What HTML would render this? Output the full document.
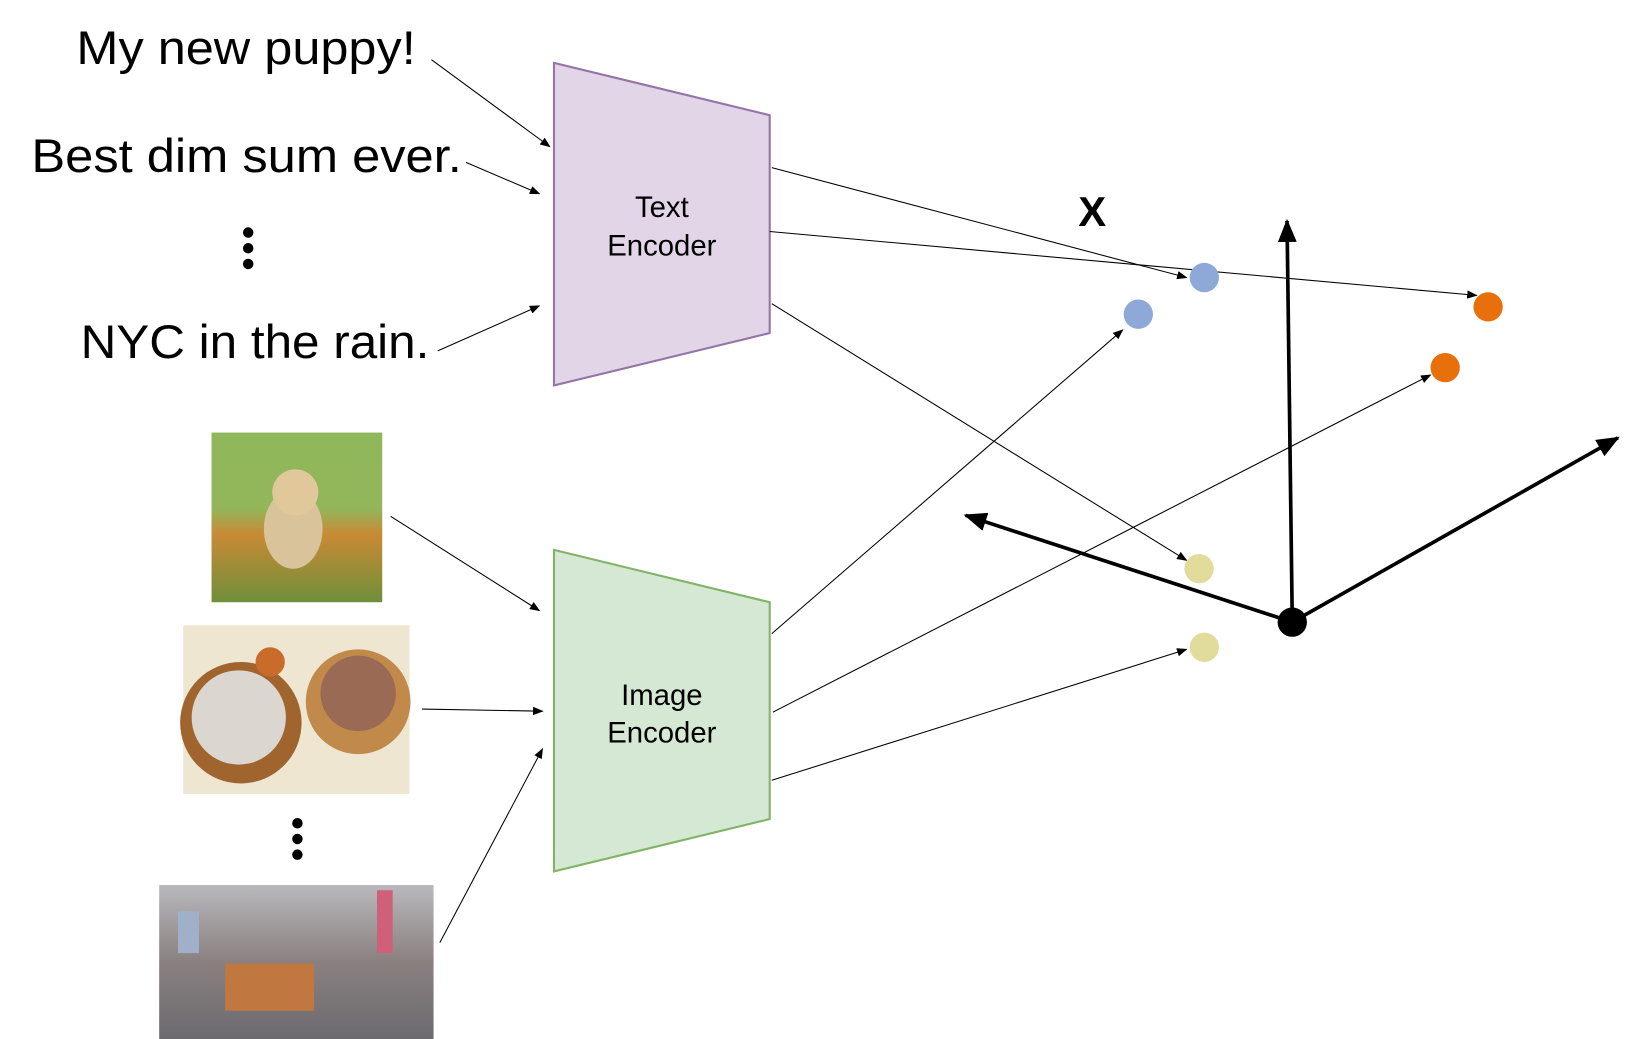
<!DOCTYPE html>
<html><head><meta charset="utf-8"><style>html,body{margin:0;padding:0;background:#fff}svg{display:block}</style></head>
<body>
<svg width="1641" height="1039" viewBox="0 0 1567 992" preserveAspectRatio="none" xmlns="http://www.w3.org/2000/svg">
<defs>
<marker id="a" markerWidth="10" markerHeight="8" refX="9" refY="4" orient="auto" markerUnits="userSpaceOnUse"><path d="M0,0 L10,4 L0,8 Z" fill="#000"/></marker>
<marker id="b" markerWidth="22" markerHeight="18" refX="20" refY="9" orient="auto" markerUnits="userSpaceOnUse"><path d="M0,0 L22,9 L0,18 Z" fill="#000"/></marker>
<linearGradient id="pup" x1="0" y1="0" x2="0" y2="1"><stop offset="0" stop-color="#8fb85a"/><stop offset="0.45" stop-color="#93b65a"/><stop offset="0.6" stop-color="#c98a35"/><stop offset="1" stop-color="#6f8f3a"/></linearGradient>
<linearGradient id="nyc" x1="0" y1="0" x2="0" y2="1"><stop offset="0" stop-color="#b8b8bc"/><stop offset="0.5" stop-color="#8a8080"/><stop offset="1" stop-color="#6c6a70"/></linearGradient>
</defs>
<g font-family="'Liberation Sans', sans-serif" fill="#000">
<text x="73" y="61" font-size="45" textLength="324" lengthAdjust="spacingAndGlyphs">My new puppy!</text>
<text x="30" y="164" font-size="45" textLength="411" lengthAdjust="spacingAndGlyphs">Best dim sum ever.</text>
<text x="77" y="342" font-size="45" textLength="333" lengthAdjust="spacingAndGlyphs">NYC in the rain.</text>
</g>
<g fill="#000"><circle cx="237" cy="222" r="5"/><circle cx="237" cy="237" r="5"/><circle cx="237" cy="252" r="5"/>
<circle cx="284" cy="786" r="5"/><circle cx="284" cy="801" r="5"/><circle cx="284" cy="816" r="5"/></g>
<polygon points="529,60 735,110 735,318 529,368" fill="#e1d5e7" stroke="#9673a6" stroke-width="2"/>
<polygon points="529,525 735,575 735,782 529,832" fill="#d5e8d4" stroke="#82b366" stroke-width="2"/>
<g font-family="'Liberation Sans', sans-serif" font-size="28" text-anchor="middle" fill="#000">
<text x="632" y="207">Text</text><text x="632" y="244">Encoder</text>
<text x="632" y="673">Image</text><text x="632" y="709">Encoder</text>
</g>
<rect x="202" y="413" width="163" height="162" fill="url(#pup)"/>
<ellipse cx="280" cy="505" rx="28" ry="38" fill="#d9c39a"/><circle cx="282" cy="470" r="22" fill="#e0c89b"/>
<rect x="175" y="597" width="216" height="161" fill="#efe6d2"/>
<circle cx="230" cy="690" r="58" fill="#a0652e"/><circle cx="228" cy="685" r="45" fill="#dcd6d0"/>
<circle cx="342" cy="670" r="50" fill="#c28a4a"/><circle cx="342" cy="662" r="36" fill="#9a6a55"/>
<circle cx="258" cy="632" r="14" fill="#c96b2b"/>
<rect x="152" y="845" width="262" height="147" fill="url(#nyc)"/>
<rect x="215" y="920" width="85" height="45" fill="#c07840"/>
<rect x="360" y="850" width="15" height="60" fill="#d0607a"/><rect x="170" y="870" width="20" height="40" fill="#9fb0c8"/>
<g stroke="#000" stroke-width="1" fill="none" marker-end="url(#a)">
<line x1="412" y1="57" x2="525" y2="140"/>
<line x1="445" y1="155" x2="515" y2="185"/>
<line x1="418" y1="335" x2="515" y2="292"/>
<line x1="373" y1="493" x2="515" y2="583"/>
<line x1="403" y1="677" x2="518" y2="679"/>
<line x1="420" y1="900" x2="518" y2="715"/>
<line x1="737" y1="160" x2="1133" y2="265"/>
<line x1="735" y1="221" x2="1410" y2="282"/>
<line x1="737" y1="290" x2="1133" y2="535"/>
<line x1="737" y1="605" x2="1072" y2="315"/>
<line x1="738" y1="680" x2="1366" y2="358"/>
<line x1="737" y1="745" x2="1133" y2="620"/>
</g>
<g stroke="#000" stroke-width="3.5" marker-end="url(#b)">
<line x1="1234" y1="594" x2="1229" y2="211"/>
<line x1="1234" y1="594" x2="922" y2="492"/>
<line x1="1234" y1="594" x2="1545" y2="418"/>
</g>
<circle cx="1234" cy="594" r="14" fill="#000"/>
<text x="1043" y="216" font-family="'Liberation Sans', sans-serif" font-size="40" font-weight="bold" text-anchor="middle">X</text>
<circle cx="1150" cy="265" r="14" fill="#8ea9d8"/><circle cx="1087" cy="300" r="14" fill="#8ea9d8"/>
<circle cx="1421" cy="293" r="14" fill="#e8700c"/><circle cx="1380" cy="351" r="14" fill="#e8700c"/>
<circle cx="1145" cy="543" r="14" fill="#e2dc9c"/><circle cx="1150" cy="618" r="14" fill="#e2dc9c"/>
</svg>
</body></html>
